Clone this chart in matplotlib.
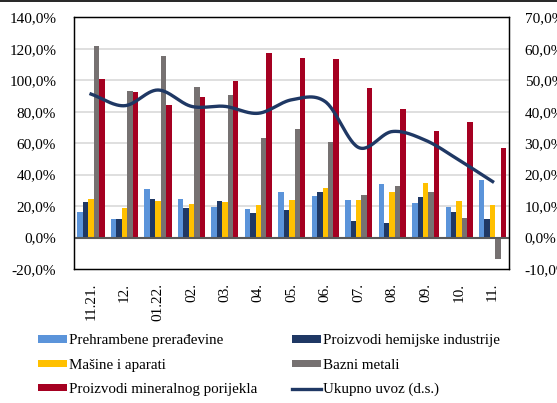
import numpy as np
import matplotlib
matplotlib.use("Agg")
import matplotlib.pyplot as plt
from matplotlib.lines import Line2D

plt.rcParams['font.family'] = ['Liberation Serif', 'DejaVu Serif']

months = ['11.21.', '12.', '01.22.', '02.', '03.', '04.', '05.', '06.',
          '07.', '08.', '09.', '10.', '11.']
prehrambene = [16.1, 12.1, 30.7, 24.6, 19.3, 18.4, 29.2, 26.5, 24.1, 34.3, 22.2, 19.2, 36.8]
hemijske = [22.6, 11.6, 24.6, 18.8, 23.5, 15.4, 17.6, 29.2, 10.6, 9.5, 25.6, 16.5, 11.6]
masine = [24.8, 19.0, 23.3, 21.6, 22.7, 20.8, 23.7, 31.7, 24.1, 29.2, 34.7, 23.3, 21.0]
bazni = [121.7, 93.3, 115.1, 95.7, 90.6, 63.5, 68.8, 60.8, 27.3, 33.0, 29.2, 12.7, -13.8]
mineralni = [100.7, 92.7, 84.4, 89.1, 99.7, 117.3, 114.1, 113.4, 95.2, 81.7, 67.7, 73.6, 57.1]
ukupno = [45.6, 41.9, 46.9, 41.7, 41.7, 39.5, 43.8, 43.2, 28.6, 33.7, 30.9, 24.6, 17.8]

series = [
    ('Prehrambene prerađevine', prehrambene, '#5B94DA'),
    ('Proizvodi hemijske industrije', hemijske, '#1F3864'),
    ('Mašine i aparati', masine, '#FFC000'),
    ('Bazni metali', bazni, '#767171'),
    ('Proizvodi mineralnog porijekla', mineralni, '#A50021'),
]


def smooth(xs, ys, n=30):
    # catmull-rom style curve like Excel's smoothed line
    xs = np.asarray(xs, float)
    ys = np.asarray(ys, float)
    px = np.concatenate([[2 * xs[0] - xs[1]], xs, [2 * xs[-1] - xs[-2]]])
    py = np.concatenate([[2 * ys[0] - ys[1]], ys, [2 * ys[-1] - ys[-2]]])
    ox, oy = [], []
    for i in range(1, len(px) - 2):
        t = np.linspace(0, 1, n, endpoint=False)
        for p, o in ((px, ox), (py, oy)):
            p0, p1, p2, p3 = p[i - 1], p[i], p[i + 1], p[i + 2]
            o.extend(0.5 * ((2 * p1) + (-p0 + p2) * t
                            + (2 * p0 - 5 * p1 + 4 * p2 - p3) * t ** 2
                            + (-p0 + 3 * p1 - 3 * p2 + p3) * t ** 3))
    ox.append(xs[-1])
    oy.append(ys[-1])
    return np.array(ox), np.array(oy)


fig = plt.figure(figsize=(5.57, 4.03), dpi=100)
ax = fig.add_axes([0.1334, 0.3325, 0.781, 0.6245])
ax2 = ax.twinx()

x = np.arange(len(months))
w = 0.162
bars = []
for i, (name, vals, col) in enumerate(series):
    b = ax.bar(x + (i - 2) * w, vals, w, color=col, label=name, zorder=3)
    bars.append(b)

ax.set_ylim(-20, 140)
ax.set_xlim(-0.5, len(months) - 0.5)
ax.set_yticks(np.arange(-20, 141, 20))
ax.set_yticklabels([f'{v:.1f}%'.replace('.', ',') for v in np.arange(-20, 141, 20)])
for v in range(20, 140, 20):
    ax.axhline(v, color='#D9D9D9', lw=1.2, zorder=1)
ax.axhline(0, color='#595959', lw=1.5, zorder=4)
ax.set_xticks(x)
ax.set_xticklabels(months, rotation=90, va='top', ha='center')
ax.tick_params(axis='x', length=0, pad=10, labelsize=11)
ax.tick_params(axis='y', length=0, pad=13, labelsize=11)

sx, sy = smooth(x, ukupno)
line, = ax2.plot(sx, sy, color='#1F3864', lw=2.4, zorder=5,
                 label='Ukupno uvoz (d.s.)')
ax2.set_ylim(-10, 70)
ax2.set_yticks(np.arange(-10, 71, 10))
ax2.set_yticklabels([f'{v:.1f}%'.replace('.', ',') for v in np.arange(-10, 71, 10)])
ax2.tick_params(axis='y', length=0, pad=11, labelsize=11)

for a in (ax, ax2):
    for s in a.spines.values():
        s.set_color('black')
        s.set_linewidth(0.9)

handles = [bars[0], bars[2], bars[4], bars[1], bars[3], line]
fig.legend(handles, [h.get_label() for h in handles], ncol=2, frameon=False,
           loc='upper left', bbox_to_anchor=(0.057, 0.185), fontsize=10.8,
           handlelength=1.95, handleheight=0.4, handletextpad=0.12,
           columnspacing=2.3, labelspacing=0.75, borderaxespad=0)

fig.add_artist(Line2D([0, 1], [0.998, 0.998], color='black', lw=1.2,
                      transform=fig.transFigure))

fig.savefig('out.png', dpi=100)
